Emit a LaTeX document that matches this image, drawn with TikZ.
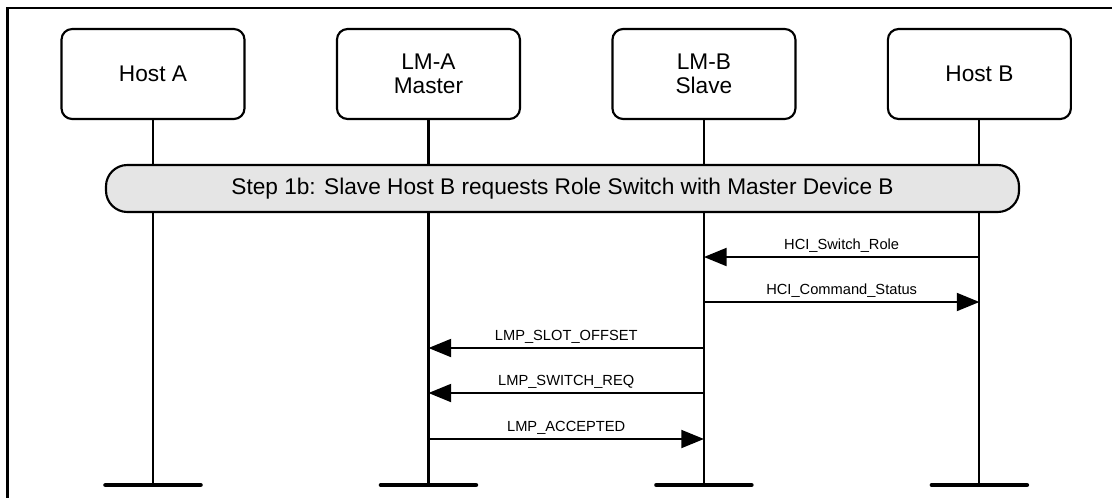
\documentclass[tikz,border=0pt]{standalone}
\usepackage{fontspec}
\setmainfont{Liberation Sans}
\usetikzlibrary{arrows.meta,positioning}

\begin{document}
\begin{tikzpicture}[
    x=0.75pt, y=-0.75pt,
    node distance=67.75pt,
    actor/.style={
        draw,
        line width=1.6pt,
        rounded corners=8pt,
        align=center,
        minimum width=137.25pt,
        minimum height=67.5pt,
        font=\fontsize{17}{18}\selectfont
    },
    stepbar/.style={
        draw,
        line width=1.6pt,
        fill=black!10,
        rounded corners=16pt,
        minimum width=684.75pt,
        minimum height=35.25pt,
        font=\fontsize{17}{20}\selectfont
    },
    lifeline/.style={line width=1.6pt},
    endbar/.style={line width=3.4pt, line cap=round},
    msg/.style={-{Triangle[length=17pt,width=13.5pt]}, line width=1.5pt},
    msglabel/.style={
        midway,
        anchor=base,
        yshift=6pt,
        inner sep=0pt,
        font=\fontsize{11}{13}\selectfont
    },
    frame/.style={line width=1.8pt}
]
\useasboundingbox (0,0) rectangle (1112,497);

% Frame
\draw[frame] (7.5,8) rectangle (1130,515);

% Actors
\node[actor] (hostA) at (153,74) {Host A};
\node[actor, right=of hostA] (lmA) {LM-A\\Master};
\node[actor, right=of lmA] (lmB) {LM-B\\Slave};
\node[actor, right=of lmB] (hostB) {Host B};

% Lifelines
\coordinate (bottom) at (0,485);
\draw[lifeline] (hostA) -- (hostA |- bottom);
\draw[lifeline] (lmA) -- (lmA |- bottom);
\draw[lifeline] (lmB) -- (lmB |- bottom);
\draw[lifeline] (hostB) -- (hostB |- bottom);

\draw[endbar] (hostA |- bottom) ++(-47.5,0) -- ++(95,0);
\draw[endbar] (lmA |- bottom) ++(-47.5,0) -- ++(95,0);
\draw[endbar] (lmB |- bottom) ++(-47.5,0) -- ++(95,0);
\draw[endbar] (hostB |- bottom) ++(-47.5,0) -- ++(95,0);

% Step
\node[stepbar] (step) at (562.5,188.5)
{Step 1b: Slave Host B requests Role Switch with Master Device B};

% Messages
\coordinate (m1) at (0,257);
\coordinate (m2) at (0,302);
\coordinate (m3) at (0,348);
\coordinate (m4) at (0,393);
\coordinate (m5) at (0,439);

\draw[msg] (hostB |- m1) -- node[msglabel] {HCI\_Switch\_Role} (lmB |- m1);
\draw[msg] (lmB |- m2) -- node[msglabel] {HCI\_Command\_Status} (hostB |- m2);
\draw[msg] (lmB |- m3) -- node[msglabel] {LMP\_SLOT\_OFFSET} (lmA |- m3);
\draw[msg] (lmB |- m4) -- node[msglabel] {LMP\_SWITCH\_REQ} (lmA |- m4);
\draw[msg] (lmA |- m5) -- node[msglabel] {LMP\_ACCEPTED} (lmB |- m5);

\end{tikzpicture}
\end{document}
